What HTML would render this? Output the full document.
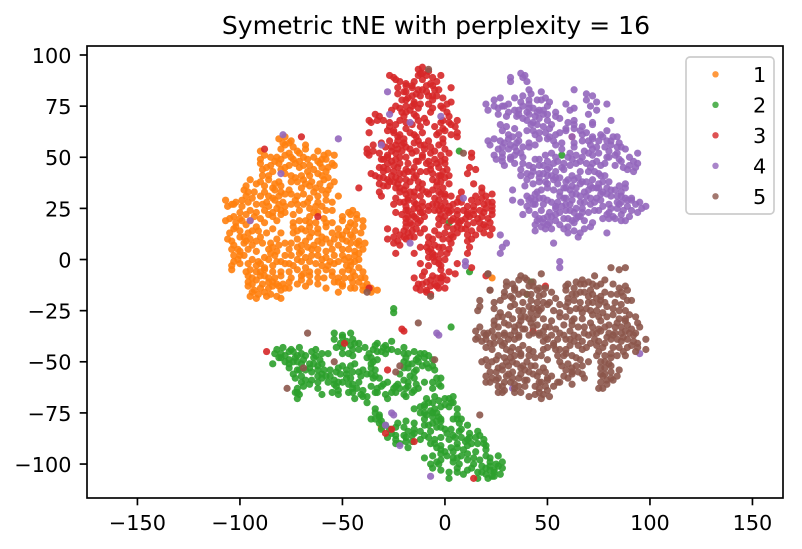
<!DOCTYPE html>
<html>
<head>
<meta charset="utf-8">
<title>Symetric tNE with perplexity = 16</title>
<style>
html,body{margin:0;padding:0;background:#fff}
svg{display:block}
text{font-family:"DejaVu Sans","Liberation Sans",sans-serif;fill:#000}
</style>
</head>
<body>
<svg id="chart" xmlns="http://www.w3.org/2000/svg" width="802" height="549" viewBox="0 0 802 549"></svg>
<script>
const xTicks = [-150,-100,-50,0,50,100,150];
const yTicks = [-100,-75,-50,-25,0,25,50,75,100];
const legendLabels = ["1","2","3","4","5"];
const seriesColors = ["#ff7f0e","#2ca02c","#d62728","#9467bd","#8c564b"];
const chartTitle = "Symetric tNE with perplexity = 16";

// Points are flat x,y pairs in data units.
const series1 = [
-81,59,-78,60,-75,58,-78,56,-76,57,-68,56,-90,53,-80,54,-76,52,-72,53,-68,54,-62,53,
-88,51,-82,50,-78,51,-71,52,-64,50,-59,51,-57,52,-54,51,-90,49,-83,48,-80,49,-75,50,-71,48,-67,49,-62,48,-58,49,
-90,47,-85,46,-81,47,-76,46,-73,47,-66,46,-61,47,-54,46,-57,45,-89,44,-84,43,-80,44,-71,45,-67,43,-64,44,-58,43,
-89,41,-78,42,-73,40,-70,41,-62,42,-57,40,-95,39,-90,38,-86,39,-81,38,-72,38,-69,39,-65,38,-59,39,-54,38,
-97,36,-88,36,-84,35,-80,36,-70,35,-66,36,-63,35,-56,36,-98,34,-96,33,-88,33,-83,34,-80,33,-76,34,-64,33,-60,34,
-97,31,-90,31,-84,30,-81,31,-78,32,-72,31,-66,30,-62,31,-52,31,-107,29,-102,28,-99,29,-94,30,-87,28,-83,29,-79,28,-73,29,-67,28,-62,28,-58,29,-55,28,
-106,26,-103,27,-99,26,-92,27,-86,26,-82,25,-78,26,-72,27,-66,25,-60,26,-95,24,-92,23,-88,24,-84,23,-80,24,-71,24,-62,23,-58,24,-45,24,-47,23,
-103,21,-93,21,-90,20,-84,21,-80,22,-66,21,-59,20,-50,21,-46,22,-107,19,-105,20,-102,18,-99,19,-82,19,-74,18,-68,19,-63,18,-58,18,-50,19,-46,18,-40,19,
-102,16,-97,17,-92,16,-84,15,-74,16,-70,15,-66,16,-62,15,-58,16,-52,15,-47,16,-44,17,-40,16,-105,13,-100,14,-96,13,-91,14,-80,13,-74,13,-68,14,-62,13,-55,13,-50,12,-44,14,
-106,10,-100,11,-95,10,-90,11,-82,10,-72,10,-66,11,-62,9,-58,10,-50,10,-45,11,-42,9,-103,7,-98,8,-94,7,-89,8,-81,7,-78,8,-70,7,-64,7,-56,8,-52,7,-46,8,-42,7,-39,8,
-104,5,-100,4,-96,5,-86,5,-82,4,-76,5,-70,4,-65,5,-58,4,-50,5,-44,4,-40,5,-103,2,-98,2,-88,1,-83,2,-75,2,-68,1,-62,2,-54,2,-47,1,-44,2,
-101,0,-91,-1,-86,0,-80,-1,-72,0,-66,-1,-60,0,-56,-1,-49,0,-46,-1,-42,0,-104,-3,-100,-2,-92,-3,-88,-4,-84,-3,-78,-2,-74,-3,-68,-4,-60,-3,-54,-2,-46,-3,-42,-4,
-104,-5,-95,-5,-92,-6,-88,-5,-80,-6,-72,-5,-66,-6,-58,-5,-50,-6,-47,-5,-40,-6,-96,-8,-90,-8,-86,-9,-80,-8,-70,-8,-62,-9,-55,-8,-49,-9,-44,-8,-39,-9,
-96,-11,-92,-10,-86,-11,-82,-12,-76,-11,-70,-10,-66,-11,-54,-11,-50,-12,-45,-11,-38,-12,-96,-13,-90,-14,-84,-13,-78,-14,-68,-13,-58,-14,-50,-13,-44,-14,-40,-13,-36,-14,
-94,-16,-88,-16,-80,-15,-52,-16,-40,-15,-36,-16,-33,-15,-95,-18,-92,-19,-87,-18,-82,-18,-80,-19,
-79,57,-74,55,-85,50,-74,49,-69,50,-60,49,-87,45,-78,45,-69,46,-60,45,-55,47,-86,41,-75,41,-66,41,-60,41,-92,37,-83,37,-75,38,-68,37,-61,37,-57,34,-93,33,-86,31,-75,32,-69,32,-58,32,
-104,27,-96,28,-89,27,-81,27,-75,27,-69,27,-63,26,-100,23,-97,22,-86,22,-78,23,-74,22,-64,23,-55,24,-43,22,-100,20,-95,19,-88,18,-71,19,-66,18,-55,18,-43,20,-48,14,-103,15,-98,11,-94,14,-87,13,-72,14,-60,11,-65,13,-52,12,-46,12,-41,13,
-104,9,-97,9,-92,9,-85,8,-75,8,-68,9,-60,8,-54,10,-48,9,-43,8,-101,5,-92,4,-84,6,-72,6,-67,6,-62,5,-55,5,-47,5,-42,3,-100,2,-94,0,-85,3,-78,2,-71,3,-65,2,-58,1,-50,2,-44,-1,
-103,-1,-96,-2,-90,-2,-82,-1,-76,-2,-70,-1,-63,-2,-57,-3,-52,-1,-48,-3,-97,-6,-90,-6,-84,-6,-76,-6,-69,-7,-62,-6,-55,-6,-45,-6,-94,-9,-88,-8,-83,-9,-75,-9,-66,-8,-59,-9,-52,-9,-46,-9,-41,-9,-94,-12,-89,-12,-84,-11,-79,-12,-72,-12,-62,-12,-52,-11,-42,-11,-93,-15,-86,-14,-81,-13,-76,-14,-46,-14,-38,-14,-91,-17,-85,-17,
-31,-82,23,-9
];

const series2 = [
-54,-36,-50,-37,-46,-36,-54,-39,-50,-38,-45,-39,-51,-41,-46,-42,-42,-41,-33,-41,-29,-42,-26,-40,
-82,-44,-79,-43,-75,-44,-71,-43,-63,-44,-50,-43,-45,-44,-39,-43,-35,-44,-30,-43,-26,-44,-20,-43,
-83,-46,-78,-47,-74,-45,-70,-46,-63,-47,-57,-46,-50,-46,-45,-47,-37,-46,-33,-45,-29,-46,-20,-46,-15,-45,-10,-46,
-81,-48,-76,-49,-73,-48,-69,-49,-64,-48,-61,-49,-38,-48,-33,-49,-19,-48,-14,-49,-10,-48,-6,-49,
-84,-51,-76,-51,-72,-50,-66,-51,-62,-52,-44,-51,-35,-50,-18,-51,-13,-50,-9,-51,-6,-52,
-76,-53,-71,-54,-66,-53,-59,-54,-52,-53,-48,-54,-36,-53,-34,-54,-20,-53,-14,-54,-8,-53,-5,-54,
-74,-56,-65,-55,-60,-56,-58,-57,-53,-55,-48,-56,-45,-55,-38,-56,-34,-57,-22,-56,-15,-55,
-73,-58,-65,-59,-60,-58,-54,-59,-48,-58,-41,-57,-35,-58,-20,-59,-15,-58,-2,-58,
-70,-60,-66,-61,-57,-60,-54,-61,-50,-60,-45,-61,-42,-60,-30,-61,-28,-60,-23,-61,-18,-60,-14,-61,-6,-60,-3,-61,
-72,-63,-69,-62,-62,-63,-53,-62,-45,-63,-36,-62,-33,-63,-24,-62,-19,-63,-15,-64,-6,-63,-2,-62,
-73,-65,-60,-66,-55,-65,-52,-66,-45,-65,-41,-66,-34,-65,-29,-66,-24,-65,-20,-66,-16,-65,
-72,-68,-44,-68,-40,-67,-28,-68,-19,-67,-9,-68,-5,-67,2,-68,4,-67,
-38,-70,-10,-71,-6,-70,0,-71,4,-70,-34,-73,-15,-73,-10,-72,-5,-73,2,-72,6,-73,
-34,-75,-32,-76,-12,-75,-9,-76,-4,-75,6,-76,-36,-78,-32,-77,-10,-78,-6,-77,-2,-78,6,-78,
-32,-80,-29,-81,-23,-80,-19,-79,-15,-80,-10,-81,-6,-80,-2,-79,7,-80,11,-81,
-31,-83,-20,-82,-15,-83,-4,-82,0,-83,8,-83,-26,-85,-20,-86,-15,-85,-7,-84,1,-85,4,-86,12,-85,16,-84,
-28,-87,-24,-88,-19,-87,-12,-88,-8,-87,-5,-88,5,-87,11,-88,15,-87,19,-88,
-24,-90,-19,-89,-7,-90,-2,-91,6,-90,10,-89,13,-90,20,-91,-18,-92,-2,-93,3,-92,9,-93,20,-93,
-2,-95,4,-94,11,-95,15,-94,20,-96,-10,-97,-2,-98,4,-97,8,-96,14,-97,22,-97,26,-96,
-7,-100,4,-99,7,-100,14,-100,22,-99,25,-100,28,-99,-6,-102,-2,-103,6,-102,11,-103,20,-102,24,-103,28,-102,
2,-104,9,-105,16,-104,20,-105,24,-104,27,-105,2,-107,16,-107,21,-107,24,-106,
-80,-46,-76,-45,-72,-47,-68,-47,-65,-45,-60,-46,-78,-50,-74,-50,-70,-51,-64,-51,-60,-51,-80,-48,-72,-54,-68,-54,-62,-54,-56,-54,-50,-52,-46,-52,-70,-57,-62,-57,-56,-57,-51,-56,-46,-58,-42,-55,-68,-59,-62,-60,-52,-60,-47,-61,-72,-65,-71,-66,-52,-64,-47,-65,-43,-63,-40,-64,-38,-67,
-48,-40,-44,-41,-53,-43,-47,-46,-42,-44,-34,-42,-31,-45,-28,-44,-23,-45,-18,-46,-13,-48,-12,-46,-8,-47,-36,-48,-36,-51,-40,-54,-36,-56,-32,-58,-18,-53,-16,-51,-20,-50,-11,-52,-17,-57,-25,-63,-26,-65,-22,-63,-18,-62,-13,-63,-33,-65,-31,-62,-10,-60,-4,-58,
-8,-70,-3,-69,-12,-72,-7,-74,-2,-72,0,-68,3,-70,-10,-75,-6,-75,-3,-77,-34,-78,-31,-79,-27,-83,-24,-82,-18,-84,-12,-84,-8,-81,-4,-79,-2,-82,4,-78,8,-78,-24,-86,-16,-86,-10,-86,-2,-87,3,-83,7,-84,-22,-90,-16,-89,-5,-90,2,-88,8,-87,12,-87,17,-86,-4,-92,0,-94,6,-92,11,-91,16,-90,19,-90,-6,-96,-4,-99,1,-96,6,-97,11,-98,17,-98,18,-101,22,-101,26,-101,-3,-100,6,-104,13,-102,18,-104,23,-106,22,-103,
7,53,2,18,12,-6,3,-33,42,-11,40,-17,-25,-24,-25,-26,57,51
];

const series3 = [
-13,93,-11,94,-8,92,-27,90,-25,89,-13,90,-11,91,-6,89,-2,90,-22,87,-19,86,-15,87,-11,88,-7,86,-4,87,
-23,84,-19,85,-16,84,-11,83,-6,85,-3,83,3,84,-23,81,-19,82,-16,80,-14,81,-9,82,-6,80,-21,78,-18,79,-15,77,-6,78,-1,79,3,77,
-19,75,-15,76,-6,74,-2,75,1,76,-26,73,-21,72,-17,73,-13,74,-7,72,-34,71,-32,70,-20,70,-15,71,-10,69,2,70,
-37,68,-36,67,-30,68,-19,67,-13,68,-9,67,-1,68,2,67,6,68,-27,65,-24,66,-19,64,-5,65,-1,64,5,65,
-37,62,-28,63,-25,62,-15,61,-11,62,0,63,6,62,-23,60,-20,59,-14,60,-4,61,-1,59,6,60,
-31,57,-23,58,-21,56,-15,57,-10,56,-1,57,-38,54,-26,55,-23,54,-19,55,-14,53,-10,54,-7,55,0,54,
-38,52,-37,51,-32,52,-28,51,-24,52,-21,53,-11,51,-7,52,-2,51,13,52,-31,49,-28,50,-24,49,-11,50,-8,48,0,49,13,50,
-28,47,-25,46,-18,47,-14,48,-7,46,0,47,-32,45,-28,44,-23,45,-19,44,-15,45,-7,44,-3,45,1,44,12,45,15,44,
-36,42,-30,43,-26,41,-22,42,-18,43,-14,41,-6,42,-3,41,11,42,-32,40,-28,39,-24,40,-19,39,-15,40,-6,39,0,40,
-32,37,-30,36,-25,38,-23,37,-19,36,-11,37,-2,38,2,37,14,37,-42,35,-24,35,-20,34,-13,35,-6,34,-1,35,18,35,
-32,33,-19,32,-15,33,-9,33,0,32,8,33,18,33,23,32,-31,31,-24,30,-15,31,-5,30,0,31,7,30,18,30,
-22,28,-18,29,-11,28,-3,29,6,28,13,29,23,28,-25,27,-19,26,-14,27,-11,26,-6,27,-2,26,4,27,14,26,19,27,23,26,
-19,24,-15,25,-11,23,-5,24,-1,25,3,24,11,23,17,24,20,25,23,24,-24,23,-16,22,-12,23,-2,22,2,23,6,22,11,22,
-19,20,-15,21,-12,19,-3,20,0,21,4,20,8,19,12,21,16,20,21,20,-19,18,-16,17,-13,18,-3,17,7,18,11,17,14,18,19,17,22,18,
-28,15,-19,16,-16,14,-10,15,6,16,10,15,13,14,17,15,20,16,-18,13,-3,12,0,13,3,12,6,13,15,12,19,13,22,12,
-28,10,-25,11,-23,9,-19,10,-17,11,-6,10,4,11,13,10,-25,8,-22,7,-8,8,-5,7,3,8,
-12,6,-7,5,-3,6,2,5,12,6,-24,3,-15,3,-8,4,-5,2,-2,3,1,3,11,3,-8,1,-3,0,
-12,-2,-5,-1,-2,-3,6,-2,-10,-6,-2,-5,2,-6,5,-7,-15,-9,-11,-8,-7,-10,-4,-9,-1,-8,
-13,-12,-9,-11,-5,-12,-2,-11,-14,-14,-9,-15,-4,-13,0,-14,-9,-16,-7,-17,
-12,91,-9,90,-24,88,-16,85,-13,83,-9,85,-5,83,-20,82,-12,80,-19,78,-16,75,-12,76,-8,80,-4,80,-24,75,-22,74,-19,72,-14,70,-8,76,-1,74,-33,68,-27,67,-22,68,-16,66,-12,65,1,72,3,66,-25,63,-22,61,-17,62,-13,58,-3,62,-2,67,3,61,-35,56,-29,55,-27,58,-24,56,-20,57,-17,54,-12,56,-8,58,-5,53,-3,56,
-35,53,-30,49,-26,53,-22,50,-19,50,-16,52,-13,48,-9,47,-5,49,-2,48,2,52,-26,48,-22,47,-30,45,-25,43,-20,42,-16,43,-12,43,-9,43,-4,47,-1,43,-34,41,-30,40,-22,39,-17,38,-13,38,-4,38,-2,41,2,41,-27,38,-28,36,-22,35,-17,33,-11,34,-4,36,-2,32,
-22,33,-18,30,-12,31,-8,32,-3,33,3,31,15,31,20,31,21,28,-20,28,-15,28,-8,26,-4,27,0,28,2,26,8,28,11,26,16,28,-18,24,-13,25,-8,24,-3,24,1,24,6,24,9,24,14,24,19,23,-21,22,-18,21,-14,20,-10,21,-1,19,3,19,6,19,10,20,14,22,18,21,23,22,
-24,14,-20,14,-17,18,-14,15,-12,13,-5,14,1,16,4,15,8,15,11,12,17,18,23,15,-22,12,-20,11,-15,11,-8,11,-1,10,2,10,11,9,-9,6,-6,3,-1,6,0,0,-3,-2,-6,1,-8,-3,-6,-8,-2,-9,1,-10,-11,-12,-7,-13,-3,-14,-12,-15,
-70,60,-88,54,-62,21,-37,-14,-87,-45,-49,-41,-28,-54,-21,-34,-20,-35,-29,-85,-26,-83,-15,-89,14,-107,43,-35,49,-13,62,60,13,-4,20,-8
];

const series4 = [
37,91,39,90,32,89,38,89,32,87,40,87,41,83,47,82,63,83,38,80,42,81,49,79,69,81,72,80,
24,78,27,79,37,77,45,78,51,77,69,78,74,77,20,76,28,75,31,76,38,75,41,76,50,75,59,76,71,75,79,76,
21,73,26,74,31,72,34,73,40,72,43,74,46,73,54,72,61,73,63,74,74,73,26,71,35,70,41,71,44,70,48,71,54,70,70,71,
40,68,43,67,46,69,50,68,60,67,63,68,72,67,81,68,27,66,30,65,45,66,48,65,59,64,67,65,72,66,
28,63,34,64,43,63,46,62,51,64,59,63,63,64,69,62,79,63,31,61,33,60,44,61,51,60,54,61,62,60,67,61,72,60,76,61,84,60,
21,58,24,59,29,57,36,58,41,57,46,59,53,58,63,57,67,58,72,59,81,58,85,57,22,56,28,55,32,56,35,57,41,55,54,56,63,55,71,56,74,55,81,56,86,55,
31,54,35,53,57,54,68,53,72,54,80,53,84,52,24,51,28,52,32,50,34,51,37,52,49,51,54,50,61,52,67,50,72,51,79,50,83,51,94,52,
25,49,28,48,32,49,38,47,46,49,50,48,58,47,62,49,66,48,72,47,85,49,92,48,29,46,43,45,48,46,53,47,57,45,61,46,71,45,76,46,87,45,90,46,94,47,
37,44,43,43,46,42,50,44,54,43,58,44,70,43,75,42,89,44,92,43,37,41,40,42,46,40,50,41,54,40,76,41,
40,39,49,38,53,39,59,38,63,39,67,38,72,39,77,38,39,36,50,37,58,35,62,36,66,37,71,36,74,35,85,36,
33,34,45,33,50,35,56,33,61,34,68,33,72,35,77,33,81,34,86,33,40,31,44,32,48,30,56,31,59,30,64,32,69,31,74,30,79,32,84,31,88,30,
33,29,37,28,41,29,46,30,55,28,62,29,68,28,76,29,86,28,89,29,95,28,40,26,43,27,54,26,59,27,64,25,71,27,77,26,85,27,89,26,93,27,98,26,
41,24,51,23,54,25,59,24,63,23,67,25,73,24,80,23,84,25,91,24,94,23,38,22,50,21,54,22,65,21,67,23,79,22,82,21,86,22,90,21,
45,19,48,20,51,18,58,20,62,19,72,18,80,20,86,19,44,17,47,16,56,17,60,16,63,18,71,16,44,14,49,15,58,15,63,14,66,13,68,15,65,11,79,13,53,8,
34,79,41,78,47,78,41,74,48,73,29,75,24,75,36,73,30,70,36,71,45,72,50,71,38,69,56,69,42,66,52,66,63,66,36,61,40,63,49,62,56,62,66,63,77,60,79,58,82,60,
27,58,31,59,34,55,38,55,44,56,50,59,57,57,70,58,75,58,78,55,84,55,88,54,26,54,28,50,38,50,44,49,52,52,60,50,64,51,70,52,75,52,80,50,86,48,90,50,
34,47,41,46,46,46,51,45,55,48,64,47,69,47,74,48,78,47,83,46,93,45,42,41,48,42,52,41,56,40,62,41,66,43,73,43,78,41,
43,37,46,38,55,37,60,39,65,40,69,38,75,37,80,38,88,37,47,34,53,34,59,35,64,35,70,34,75,35,79,35,83,34,88,35,42,30,44,29,50,29,58,30,62,32,66,31,71,30,76,32,81,31,86,31,91,30,
44,27,48,27,52,28,57,26,61,27,66,28,73,28,80,27,84,28,91,29,96,25,44,22,47,24,52,21,56,23,61,24,66,21,70,23,75,24,81,25,87,24,46,20,50,17,54,19,60,20,64,20,68,19,77,20,83,20,88,19,52,15,60,13,48,18,
27,12,30,8,28,6,27,3,
-79,61,-52,59,-80,42,-95,19,-28,82,-27,71,-17,67,-2,70,-31,56,9,30,-17,8,10,-1,10,-3,56,-1,56,-4,95,-46,33,-63,-4,-36,-3,-37,-26,-75,-25,-76,-29,-81,-22,-91,-7,-106
];

const series5 = [
81,-4,85,-5,88,-4,21,-7,47,-7,37,-8,39,-9,73,-8,30,-11,40,-10,43,-11,64,-11,67,-10,70,-11,78,-10,
30,-13,34,-14,43,-13,49,-14,59,-13,63,-14,68,-12,74,-13,85,-14,88,-13,22,-15,29,-16,34,-15,38,-16,45,-15,52,-16,59,-15,66,-16,71,-15,78,-16,89,-15,
29,-18,33,-19,40,-17,46,-18,60,-19,64,-17,70,-18,74,-19,81,-17,87,-18,17,-20,24,-21,42,-20,48,-21,60,-21,63,-20,72,-21,76,-20,83,-21,89,-20,
17,-23,24,-24,32,-23,34,-22,41,-23,45,-24,50,-22,59,-23,66,-24,75,-22,79,-23,16,-25,27,-26,38,-25,42,-26,46,-25,56,-26,61,-25,67,-26,71,-25,77,-26,88,-25,
28,-28,31,-27,37,-28,41,-29,45,-27,56,-28,63,-29,72,-27,79,-28,85,-29,90,-27,24,-30,29,-31,37,-30,42,-31,48,-29,62,-30,71,-31,76,-30,84,-31,88,-30,94,-31,
17,-33,24,-32,34,-33,39,-34,45,-32,49,-33,54,-34,62,-32,68,-33,75,-34,80,-32,86,-33,91,-34,95,-33,
15,-35,19,-36,23,-35,29,-36,34,-35,38,-34,43,-36,48,-35,56,-36,61,-35,72,-36,76,-35,83,-36,88,-35,93,-36,
16,-38,20,-37,24,-38,29,-37,36,-38,46,-37,49,-38,58,-37,65,-38,70,-37,79,-38,82,-37,87,-38,92,-37,
18,-40,22,-41,27,-40,31,-39,48,-40,53,-41,59,-39,63,-40,71,-41,75,-40,81,-39,86,-40,94,-41,98,-39,
20,-43,28,-42,33,-43,38,-42,50,-43,53,-42,59,-44,65,-42,69,-43,74,-42,82,-43,91,-42,94,-43,98,-44,
32,-45,37,-46,43,-45,56,-44,59,-46,75,-45,81,-46,87,-45,32,-48,37,-47,44,-48,55,-47,64,-48,74,-47,81,-48,88,-47,
18,-50,25,-49,30,-50,35,-51,40,-50,50,-49,56,-50,60,-51,66,-49,76,-50,80,-51,21,-52,26,-53,31,-52,37,-53,42,-52,62,-53,67,-52,76,-53,81,-52,
22,-55,28,-54,33,-55,39,-54,43,-56,49,-55,59,-54,65,-55,76,-56,81,-55,85,-54,20,-57,26,-58,30,-57,36,-58,45,-57,50,-58,58,-57,62,-56,68,-58,77,-57,81,-58,
20,-60,25,-59,29,-60,34,-61,39,-59,46,-60,50,-59,56,-60,62,-61,76,-60,82,-59,26,-62,34,-63,39,-62,46,-63,53,-62,77,-63,26,-65,29,-64,37,-65,46,-65,50,-64,41,-67,47,-68,51,-67,
33,-12,36,-10,41,-13,46,-14,60,-12,66,-12,72,-12,76,-12,82,-12,86,-16,32,-18,36,-17,42,-17,48,-17,54,-19,62,-17,68,-16,72,-17,76,-18,84,-17,27,-20,38,-21,45,-21,51,-21,56,-22,66,-21,70,-21,78,-21,86,-22,91,-20,36,-25,43,-24,47,-24,53,-25,64,-24,69,-24,74,-25,82,-24,85,-25,
26,-28,33,-29,39,-28,43,-29,52,-30,59,-28,67,-29,75,-28,82,-27,88,-29,93,-28,26,-33,31,-32,36,-32,43,-33,51,-33,58,-32,65,-33,72,-33,78,-33,83,-33,89,-32,
21,-36,26,-37,32,-37,36,-37,41,-37,46,-36,52,-37,63,-37,68,-36,74,-36,80,-36,86,-36,90,-36,15,-39,20,-39,24,-41,29,-41,34,-39,50,-39,55,-39,61,-39,67,-40,73,-39,78,-41,84,-39,89,-39,92,-40,
23,-44,30,-44,36,-44,41,-44,48,-44,54,-44,61,-42,67,-44,77,-43,85,-43,89,-43,93,-45,26,-47,29,-48,34,-47,41,-47,47,-47,58,-47,62,-47,78,-47,84,-47,
20,-49,23,-50,28,-52,33,-50,38,-52,44,-52,48,-53,57,-52,64,-52,70,-50,78,-50,78,-53,25,-55,31,-56,37,-56,41,-55,46,-55,62,-55,67,-56,78,-56,84,-57,23,-58,33,-58,40,-59,47,-60,52,-57,60,-58,79,-59,22,-60,28,-62,32,-60,36,-62,44,-62,49,-62,55,-60,75,-63,79,-61,28,-65,34,-65,44,-66,48,-66,
-38,-16,-8,93,9,52,-7,-18,-67,-36,-54,-50,-69,-53,-77,-63,-22,-52,-24,-55,-5,-49,17,-76,-13,-31,21,-7,22,-15
];

const seriesData = [series1,series2,series3,series4,series5];

const svgNS = "http://www.w3.org/2000/svg";
const chart = document.getElementById("chart");
const plotLeft = 87, plotRight = 783, plotTop = 46, plotBottom = 498;
const xMin = -174.6, xMax = 164.9, yMin = -116.6, yMax = 104.4;
const fontPx = 20.8;
const strokeW = 1.67;
const tickLen = 7.3;
const dotR = 3.6;
const legendDotR = 3.2;

function xScale(v){ return plotLeft + (v - xMin) / (xMax - xMin) * (plotRight - plotLeft); }
function yScale(v){ return plotBottom - (v - yMin) / (yMax - yMin) * (plotBottom - plotTop); }
function make(tag, attrs, parent){
  const el = document.createElementNS(svgNS, tag);
  for (const k in attrs) el.setAttribute(k, attrs[k]);
  (parent || chart).appendChild(el);
  return el;
}
function tickText(v){ return (v < 0 ? "\u2212" + Math.abs(v) : String(v)); }

seriesData.forEach(function(points, s){
  const group = make("g", {fill: seriesColors[s], "fill-opacity": 0.9});
  
  
  for (let i = 0; i + 1 < points.length; i += 2) {
    const dot = make("circle", {cx: xScale(points[i]), cy: yScale(points[i+1]), r: dotR}, group);
    
    
  }
});

const frame = make("rect", {x: plotLeft, y: plotTop, width: plotRight-plotLeft, height: plotBottom-plotTop, fill: "none", stroke: "#000", "stroke-width": strokeW});



xTicks.forEach(function(v){
  const x = xScale(v);
  const mark = make("line", {x1: x, x2: x, y1: plotBottom, y2: plotBottom + tickLen, stroke: "#000", "stroke-width": strokeW});
  
  
  const label = make("text", {x: x, y: plotBottom + 32, "text-anchor": "middle", "font-size": fontPx});
  
  
  label.textContent = tickText(v);
});
yTicks.forEach(function(v){
  const y = yScale(v);
  const mark = make("line", {x1: plotLeft - tickLen, x2: plotLeft, y1: y, y2: y, stroke: "#000", "stroke-width": strokeW});
  
  
  const label = make("text", {x: plotLeft - 15.5, y: y + 7.9, "text-anchor": "end", "font-size": fontPx});
  
  
  label.textContent = tickText(v);
});

const title = make("text", {x: 436, y: 34, "text-anchor": "middle", "font-size": 25.1});


title.textContent = chartTitle;

const legend = make("g", {});


const legendBox = make("rect", {x: 686, y: 57, width: 88, height: 157, rx: 4, fill: "#fff", "fill-opacity": 0.8, stroke: "#ccc", "stroke-width": strokeW}, legend);


legendLabels.forEach(function(name, i){
  const y = 74.3 + i * 30.5;
  const dot = make("circle", {cx: 715.5, cy: y, r: legendDotR, fill: seriesColors[i], "fill-opacity": 0.8}, legend);
  
  
  const label = make("text", {x: 753, y: y + 7.6, "font-size": fontPx}, legend);
  
  
  label.textContent = name;
});
</script>
</body>
</html>
